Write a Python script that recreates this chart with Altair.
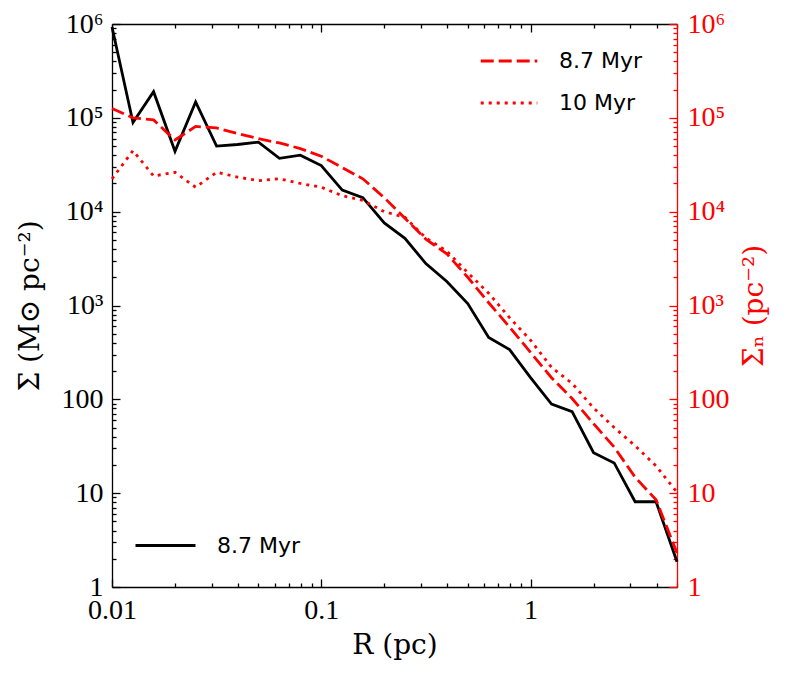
import altair as alt
import pandas as pd

# ---------------- data ----------------
R = [0.01, 0.0126, 0.0158, 0.02, 0.0251, 0.0316, 0.0398, 0.0501, 0.0631, 0.0794,
     0.1, 0.126, 0.158, 0.2, 0.251, 0.316, 0.398, 0.501, 0.631, 0.794,
     1.0, 1.26, 1.58, 2.0, 2.51, 3.16, 3.98, 5.01]

# Sigma (Msun pc^-2), 8.7 Myr, solid black (left axis)
sigma_87 = [9.3e5, 8.9e4, 1.9e5, 4.4e4, 1.48e5, 5.0e4, 5.2e4, 5.5e4, 3.7e4, 4.0e4,
            3.1e4, 1.7e4, 1.41e4, 7.6e3, 5.2e3, 2.8e3, 1.8e3, 1.05e3, 457, 339,
            170, 89, 74, 27, 21, 8.1, 8.1, 1.86]

# Sigma_n (pc^-2), 8.7 Myr, red dashed (right axis)
sigma_n_87 = [1.26e5, 1.0e5, 9.5e4, 5.8e4, 8.1e4, 7.8e4, 6.8e4, 6.0e4, 5.4e4, 4.7e4,
              3.9e4, 2.95e4, 2.24e4, 1.41e4, 8.5e3, 5.1e3, 3.55e3, 2.0e3, 1.07e3, 589,
              316, 170, 102, 55, 31, 14.8, 8.5, 2.3]

# Sigma_n (pc^-2), 10 Myr, red dotted (right axis)
sigma_n_10 = [2.24e4, 4.47e4, 2.4e4, 2.63e4, 1.82e4, 2.63e4, 2.34e4, 2.14e4, 2.24e4, 2.0e4,
              1.82e4, 1.48e4, 1.32e4, 1.0e4, 8.7e3, 5.25e3, 3.8e3, 2.24e3, 1.35e3, 741,
              427, 219, 148, 81, 50, 32, 19.5, 10.2]

x_major = [0.01, 0.1, 1]
x_minor = [0.02, 0.03, 0.04, 0.05, 0.06, 0.07, 0.08, 0.09,
           0.2, 0.3, 0.4, 0.5, 0.6, 0.7, 0.8, 0.9, 2, 3, 4, 5]
y_major = [1, 10, 100, 1000, 10000, 100000, 1000000]
y_minor = [m * d for d in [1, 10, 100, 1000, 10000, 100000] for m in range(2, 10)]

black_label = "8.7 Myr"
red_labels = ["8.7 Myr", "10 Myr"]

# ---------------- frames ----------------
df_b = pd.DataFrame({"R": R, "S": sigma_87, "label": black_label})
df_r = pd.concat([
    pd.DataFrame({"R": R, "S": sigma_n_87, "series": red_labels[0]}),
    pd.DataFrame({"R": R, "S": sigma_n_10, "series": red_labels[1]}),
])

W, H = 565, 563
SERIF = "Liberation Serif"
TSERIF = "DejaVu Serif"
SANS = "DejaVu Sans"
RED = "#ff0000"

xscale = alt.Scale(type="log", domain=[0.01, 5.01], nice=False)
yscale = alt.Scale(type="log", domain=[1, 1e6], nice=False)

x_lab = "datum.value < 0.05 ? '0.01' : (datum.value < 0.5 ? '0.1' : '1')"
y_lab = ("datum.value > 5e5 ? '10\u2076' : datum.value > 5e4 ? '10\u2075' : "
         "datum.value > 5e3 ? '10\u2074' : datum.value > 500 ? '10\u00b3' : "
         "datum.value > 50 ? '100' : datum.value > 5 ? '10' : '1'")
major_test = "abs(log(datum.value)/LN10 - round(log(datum.value)/LN10)) < 0.001"
tick_size = {"condition": {"test": major_test, "value": 8}, "value": 4}

# ---------------- layer A: black line, left & bottom labelled axes ----------------
black = alt.Chart(df_b).mark_line(strokeWidth=2.8, strokeCap="butt").encode(
    x=alt.X("R:Q", scale=xscale, axis=alt.Axis(
        orient="bottom", values=x_major, labelExpr=x_lab, ticks=False, grid=False,
        domainColor="black", domainWidth=1.3, labelFont=SERIF, labelFontSize=28,
        labelColor="black", labelPadding=9, labelFlush=False, labelOverlap=False,
        labelBound=False,
        title="R (pc)", titleFont=TSERIF, titleFontSize=28, titleFontWeight="normal",
        titleColor="black", titlePadding=7)),
    y=alt.Y("S:Q", scale=yscale, axis=alt.Axis(
        orient="left", values=y_major, labelExpr=y_lab, ticks=False, grid=False,
        domainColor="black", domainWidth=1.3, labelFont=SERIF, labelFontSize=28,
        labelColor="black", labelPadding=9, labelFlush=False, labelOverlap=False,
        labelBound=False,
        title="\u03a3 (M\u2299 pc\u207b\u00b2)", titleFont=TSERIF, titleFontSize=28,
        titleFontWeight="normal", titleColor="black", titleAngle=270,
        titleX=-82, titleY=H / 2, titleAlign="center", titleBaseline="middle")),
    color=alt.Color("label:N", title=None,
                    scale=alt.Scale(domain=[black_label], range=["black"]),
                    legend=alt.Legend(orient="none", legendX=22, legendY=490,
                                      symbolType="stroke", symbolSize=3600,
                                      symbolStrokeWidth=2.8, labelFont=SANS,
                                      labelFontSize=22, labelColor="black",
                                      labelOffset=20, padding=0)),
)

# ---------------- layer B: red lines, right labelled axis ----------------
red = alt.Chart(df_r).mark_line(strokeWidth=2.8, color=RED, strokeCap="butt").encode(
    x=alt.X("R:Q", scale=xscale, axis=None),
    y=alt.Y("S:Q", scale=yscale, axis=alt.Axis(
        orient="right", values=y_major, labelExpr=y_lab, ticks=False, grid=False,
        domainColor=RED, domainWidth=1.3, labelFont=SERIF, labelFontSize=28,
        labelColor=RED, labelPadding=10, labelFlush=False, labelOverlap=False,
        labelBound=False,
        title="\u03a3\u2099 (pc\u207b\u00b2)", titleFont=TSERIF, titleFontSize=28,
        titleFontWeight="normal", titleColor=RED, titleAngle=270,
        titleX=77, titleY=H / 2, titleAlign="center", titleBaseline="middle")),
    strokeDash=alt.StrokeDash("series:N", title=None,
                              scale=alt.Scale(domain=red_labels, range=[[13, 5], [3, 5]]),
                              legend=alt.Legend(orient="none", legendX=367, legendY=7,
                                                symbolType="stroke", symbolSize=3200,
                                                symbolStrokeWidth=2.8, symbolStrokeColor=RED,
                                                labelFont=SANS, labelFontSize=22,
                                                labelColor="black", labelOffset=20,
                                                rowPadding=1, padding=0)),
)

# ---------------- layers C, D: inward ticks ----------------
tick_axis_common = dict(labels=False, grid=False, title=None, tickSize=tick_size,
                        tickWidth=1.3)

ticks_bl = alt.Chart(df_b).mark_point(opacity=0).encode(
    x=alt.X("R:Q", scale=xscale, axis=alt.Axis(
        orient="top", offset=-H, values=x_major + x_minor, domain=False,
        tickColor="black", **tick_axis_common)),
    y=alt.Y("S:Q", scale=yscale, axis=alt.Axis(
        orient="right", offset=-W, values=y_major + y_minor, domain=False,
        tickColor="black", **tick_axis_common)),
)

ticks_tr = alt.Chart(df_b).mark_point(opacity=0).encode(
    x=alt.X("R:Q", scale=xscale, axis=alt.Axis(
        orient="bottom", offset=-H, values=x_major + x_minor, domain=True,
        domainColor="black", domainWidth=1.3,
        tickColor="black", **tick_axis_common)),
    y=alt.Y("S:Q", scale=yscale, axis=alt.Axis(
        orient="left", offset=-W, values=y_major + y_minor, domain=False,
        tickColor=RED, **tick_axis_common)),
)

chart = alt.layer(black, red, ticks_bl, ticks_tr).resolve_scale(
    x="independent", y="independent", color="independent", strokeDash="independent"
).properties(
    width=W, height=H, autosize="none",
    padding={"left": 104, "top": 16, "right": 104, "bottom": 84},
    background="white",
).configure_view(strokeWidth=0)

chart.save("out.html", embed_options={"renderer": "svg", "actions": False})
